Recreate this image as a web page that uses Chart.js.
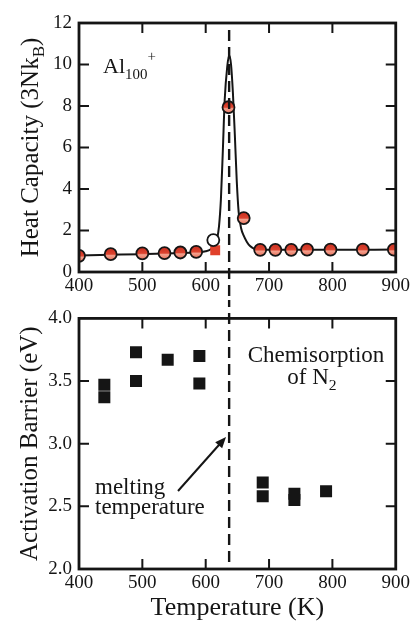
<!DOCTYPE html>
<html>
<head>
<meta charset="utf-8">
<script src="https://cdn.jsdelivr.net/npm/chart.js@4.4.1/dist/chart.umd.min.js"></script>
<style>
  body { margin: 0; background: #fff; }
  #wrap { position: relative; width: 413px; height: 623px; }
  canvas { position: absolute; left: 0; }
  #topChart { top: 0; }
  #bottomChart { top: 300px; }
</style>
</head>
<body>
<div id="wrap">
  <canvas id="topChart" width="413" height="300"></canvas>
  <canvas id="bottomChart" width="413" height="323"></canvas>
</div>
<script>
// heat capacity, measured points (K, 3NkB)
const heatTemps = [400, 450, 500, 535, 560, 585, 636, 660, 686, 710, 735, 760, 797, 848, 897];
const heatValues = [0.78, 0.86, 0.90, 0.91, 0.94, 0.97, 7.94, 2.6, 1.07, 1.07, 1.07, 1.08, 1.08, 1.08, 1.08];
const openTemps = [612];
const openValues = [1.54];
const hiddenTemps = [615];
const hiddenValues = [1.05];
// fitted curve
const fitTemps = [400, 450, 500, 550, 580, 600, 608, 614, 618, 621, 624, 627, 630, 634, 637, 640, 643, 646, 649, 652, 656, 660, 665, 670, 676, 685, 700, 800, 900];
const fitValues = [0.80, 0.83, 0.86, 0.90, 0.94, 1.00, 1.10, 1.30, 1.60, 2.20, 3.50, 5.80, 8.30, 9.90, 10.45, 10.0, 8.6, 6.6, 4.4, 2.9, 2.1, 1.75, 1.45, 1.25, 1.13, 1.08, 1.07, 1.07, 1.08];
// activation barrier (K, eV)
const barrierTemps = [440, 440, 490, 490, 540, 590, 590, 690, 690, 740, 740, 790];
const barrierValues = [3.47, 3.37, 3.73, 3.50, 3.67, 3.70, 3.48, 2.69, 2.58, 2.60, 2.55, 2.62];
const meltTemp = 637;
const tempTicks = [400, 500, 600, 700, 800, 900];

const FAMILY = '"Liberation Serif", "DejaVu Serif", serif';
const INK = '#151515';

function pts(xs, ys) {
  return xs.map((x, i) => ({ x: x, y: ys[i] }));
}

function drawRich(ctx, parts, x, y, size, align) {
  const widths = parts.map(p => {
    ctx.font = (p[1] ? size * 0.68 : size) + 'px ' + FAMILY;
    return ctx.measureText(p[0]).width;
  });
  const total = widths.reduce((s, w) => s + w, 0);
  let cx = align === 'center' ? x - total / 2 : x;
  ctx.textAlign = 'left';
  ctx.textBaseline = 'alphabetic';
  parts.forEach((p, i) => {
    ctx.font = (p[1] ? size * 0.68 : size) + 'px ' + FAMILY;
    const dy = p[1] === 'sub' ? size * 0.25 : p[1] === 'sup' ? -size * 0.55 : 0;
    ctx.fillText(p[0], cx, y + dy);
    cx += widths[i];
  });
}

// box around the plot with inward ticks on all sides
const frame = {
  id: 'frame',
  afterDatasetsDraw(chart) {
    const { ctx, chartArea: a, scales: { x, y } } = chart;
    ctx.save();
    ctx.strokeStyle = INK;
    ctx.lineWidth = 2;
    ctx.beginPath();
    x.ticks.forEach(t => {
      if (t.value <= x.min || t.value >= x.max) return;
      const px = x.getPixelForValue(t.value);
      ctx.moveTo(px, a.bottom); ctx.lineTo(px, a.bottom - 10);
      ctx.moveTo(px, a.top); ctx.lineTo(px, a.top + 10);
    });
    y.ticks.forEach(t => {
      if (t.value <= y.min || t.value >= y.max) return;
      const py = y.getPixelForValue(t.value);
      ctx.moveTo(a.left, py); ctx.lineTo(a.left + 10, py);
      ctx.moveTo(a.right, py); ctx.lineTo(a.right - 10, py);
    });
    ctx.stroke();
    ctx.lineWidth = 2.8;
    ctx.strokeRect(a.left, a.top, a.right - a.left, a.bottom - a.top);
    ctx.restore();
  }
};

// dashed line at the melting temperature
const meltLine = {
  id: 'meltLine',
  afterDatasetsDraw(chart, args, opts) {
    const { ctx, chartArea: a, scales: { x } } = chart;
    const px = x.getPixelForValue(meltTemp);
    ctx.save();
    ctx.strokeStyle = INK;
    ctx.lineWidth = 2.4;
    ctx.setLineDash([11, 6]);
    ctx.lineDashOffset = opts.offset || 0;
    ctx.beginPath();
    ctx.moveTo(px, opts.y0);
    ctx.lineTo(px, opts.to === 'area' ? a.bottom : opts.y1);
    ctx.stroke();
    ctx.restore();
  }
};

// axis titles and notes with sub/superscripts
const notes = {
  id: 'notes',
  afterDraw(chart, args, opts) {
    const { ctx, chartArea: a } = chart;
    ctx.save();
    ctx.fillStyle = INK;
    (opts.items || []).forEach(it => {
      if (it.rotate) {
        ctx.save();
        ctx.translate(it.x, (a.top + a.bottom) / 2);
        ctx.rotate(-Math.PI / 2);
        drawRich(ctx, it.parts, 0, 0, it.size, 'center');
        ctx.restore();
      } else {
        const x = it.x === 'center' ? (a.left + a.right) / 2 : it.x;
        drawRich(ctx, it.parts, x, it.y, it.size, it.align);
      }
    });
    if (opts.arrow) {
      const [x0, y0, x1, y1] = opts.arrow;
      const ang = Math.atan2(y1 - y0, x1 - x0);
      ctx.strokeStyle = INK;
      ctx.lineWidth = 2;
      ctx.beginPath();
      ctx.moveTo(x0, y0);
      ctx.lineTo(x1 - 6 * Math.cos(ang), y1 - 6 * Math.sin(ang));
      ctx.stroke();
      ctx.beginPath();
      ctx.moveTo(x1, y1);
      ctx.lineTo(x1 - 12 * Math.cos(ang - 0.4), y1 - 12 * Math.sin(ang - 0.4));
      ctx.lineTo(x1 - 12 * Math.cos(ang + 0.4), y1 - 12 * Math.sin(ang + 0.4));
      ctx.closePath();
      ctx.fill();
    }
    ctx.restore();
  }
};

function redFill(c) {
  const chart = c.chart;
  if (c.type !== 'data' || !chart.chartArea) return '#d6402b';
  const py = chart.scales.y.getPixelForValue(c.parsed.y);
  const g = chart.ctx.createLinearGradient(0, py - 6, 0, py + 6);
  g.addColorStop(0, '#c82e1e');
  g.addColorStop(0.5, '#dc4430');
  g.addColorStop(0.62, '#f3a18e');
  g.addColorStop(1, '#e8705a');
  return g;
}

function xScale(height) {
  return {
    type: 'linear',
    min: 400,
    max: 900,
    afterBuildTicks: s => { s.ticks = tempTicks.map(v => ({ value: v })); },
    grid: { display: false, drawTicks: false },
    border: { display: false },
    ticks: { color: INK, padding: 3, font: { family: FAMILY, size: 19 } },
    afterFit: s => { s.height = height; }
  };
}

function yScale(min, max, step, digits) {
  return {
    type: 'linear',
    min: min,
    max: max,
    grid: { display: false, drawTicks: false },
    border: { display: false },
    ticks: {
      stepSize: step,
      color: INK,
      padding: 7,
      font: { family: FAMILY, size: 19 },
      callback: v => v.toFixed(digits)
    },
    afterFit: s => { s.width = 79; }
  };
}

Chart.defaults.font.family = FAMILY;

new Chart(document.getElementById('topChart'), {
  type: 'scatter',
  data: {
    datasets: [
      {
        data: pts(fitTemps, fitValues),
        showLine: true,
        cubicInterpolationMode: 'monotone',
        borderColor: INK,
        borderWidth: 2,
        pointRadius: 0,
        order: 4
      },
      {
        data: pts(hiddenTemps, hiddenValues),
        pointStyle: 'rect',
        pointRadius: 7,
        pointBackgroundColor: '#e0402a',
        pointBorderWidth: 0,
        order: 3
      },
      {
        data: pts(heatTemps, heatValues),
        pointRadius: 6,
        pointBackgroundColor: redFill,
        pointBorderColor: INK,
        pointBorderWidth: 1.8,
        order: 2
      },
      {
        data: pts(openTemps, openValues),
        pointRadius: 6,
        pointBackgroundColor: '#ffffff',
        pointBorderColor: INK,
        pointBorderWidth: 1.8,
        order: 1
      }
    ]
  },
  options: {
    responsive: false,
    animation: false,
    layout: { padding: { left: 0, top: 23, right: 15, bottom: 0 } },
    scales: { x: xScale(28), y: yScale(0, 12, 2, 0) },
    plugins: {
      legend: { display: false },
      tooltip: { enabled: false },
      meltLine: { y0: 30, y1: 300 },
      notes: {
        items: [
          { rotate: true, x: 38, size: 25, parts: [['Heat Capacity (3Nk'], ['B', 'sub'], [')']] },
          { x: 103, y: 73, size: 22, align: 'left', parts: [['Al'], ['100', 'sub'], ['+', 'sup']] }
        ]
      }
    }
  },
  plugins: [frame, meltLine, notes]
});

new Chart(document.getElementById('bottomChart'), {
  type: 'scatter',
  data: {
    datasets: [
      {
        data: pts(barrierTemps, barrierValues),
        pointStyle: 'rect',
        pointRadius: 8.5,
        pointBackgroundColor: INK,
        pointBorderWidth: 0
      }
    ]
  },
  options: {
    responsive: false,
    animation: false,
    layout: { padding: { left: 0, top: 18, right: 15, bottom: 0 } },
    scales: { x: xScale(54), y: yScale(2, 4, 0.5, 1) },
    plugins: {
      legend: { display: false },
      tooltip: { enabled: false },
      meltLine: { y0: 0, to: 'area', offset: 4 },
      notes: {
        items: [
          { rotate: true, x: 37, size: 25, parts: [['Activation Barrier (eV)']] },
          { x: 'center', y: 315, size: 26, align: 'center', parts: [['Temperature (K)']] },
          { x: 316, y: 62, size: 23, align: 'center', parts: [['Chemisorption']] },
          { x: 312, y: 84, size: 23, align: 'center', parts: [['of N'], ['2', 'sub']] },
          { x: 95, y: 194, size: 23, align: 'left', parts: [['melting']] },
          { x: 95, y: 214, size: 23, align: 'left', parts: [['temperature']] }
        ],
        arrow: [178, 191, 226, 137]
      }
    }
  },
  plugins: [frame, meltLine, notes]
});
</script>
</body>
</html>
